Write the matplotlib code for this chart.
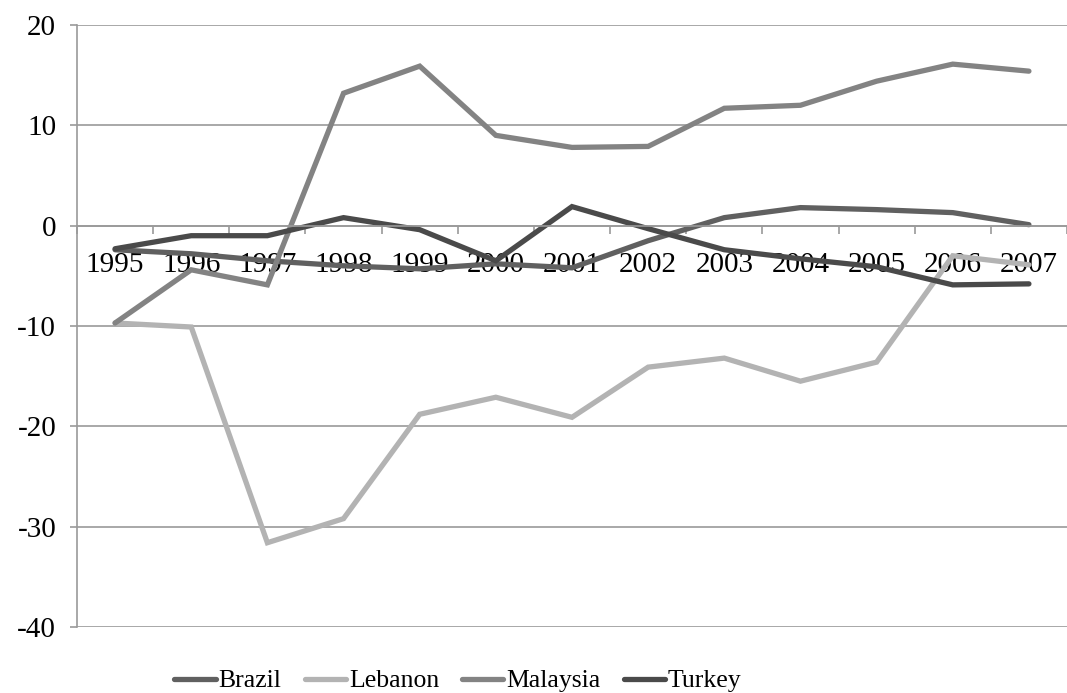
import matplotlib
matplotlib.use('Agg')
from matplotlib import pyplot as plt
import numpy as np

years = ['1995', '1996', '1997', '1998', '1999', '2000', '2001',
         '2002', '2003', '2004', '2005', '2006', '2007']
brazil = [-2.4, -2.8, -3.5, -4.0, -4.3, -3.8, -4.2, -1.5, 0.8, 1.8, 1.6, 1.3, 0.1]
lebanon = [-9.7, -10.1, -31.6, -29.2, -18.8, -17.1, -19.1, -14.1, -13.2, -15.5, -13.6, -3.0, -3.9]
malaysia = [-9.7, -4.4, -5.9, 13.2, 15.9, 9.0, 7.8, 7.9, 11.7, 12.0, 14.4, 16.1, 15.4]
turkey = [-2.3, -1.0, -1.0, 0.8, -0.4, -3.5, 1.9, -0.3, -2.4, -3.3, -4.1, -5.9, -5.8]

series = [('Brazil', brazil, '#606060'),
          ('Lebanon', lebanon, '#b3b3b3'),
          ('Malaysia', malaysia, '#838383'),
          ('Turkey', turkey, '#4a4a4a')]

plt.rcParams['font.family'] = ['Liberation Serif', 'DejaVu Serif']
plt.rcParams['axes.unicode_minus'] = False

fig = plt.figure(figsize=(10.67, 6.93), dpi=100)
ax = fig.add_axes([77 / 1067, 1 - 627 / 693, (1067 - 77) / 1067, (627 - 25) / 693])

x = np.arange(len(years))
for name, vals, col in series:
    ax.plot(x, vals, color=col, lw=3.8, label=name, solid_capstyle='round',
            solid_joinstyle='miter')

ax.set_ylim(-40, 20)
ax.set_yticks(range(-40, 21, 10))
ax.set_xlim(-0.5, (1067 - 116) / 76.67)
ax.grid(axis='y', color='#9a9a9a', lw=1.2)
ax.set_axisbelow(True)

for s in ['top', 'right']:
    ax.spines[s].set_visible(False)
ax.spines['left'].set_color('#9a9a9a')
ax.spines['left'].set_linewidth(1.2)
ax.spines['bottom'].set_position(('data', 0))
ax.spines['bottom'].set_color('#9a9a9a')
ax.spines['bottom'].set_linewidth(1.2)

ax.set_xticks(x)
ax.set_xticklabels(years)
ax.set_xticks(np.arange(-0.5, 13, 1), minor=True)
ax.tick_params(axis='x', which='major', length=0, pad=19, labelsize=21)
ax.tick_params(axis='x', which='minor', length=6, color='#9a9a9a', width=1.2)
ax.tick_params(axis='y', length=5, color='#9a9a9a', width=1.2, labelsize=21, pad=10)

fig.legend(*ax.get_legend_handles_labels(), loc='center',
           bbox_to_anchor=(458 / 1067, 1 - 681 / 693), ncol=4, frameon=False,
           fontsize=18.5, handlelength=1.6, handletextpad=0.12, columnspacing=0.9,
           borderaxespad=0, borderpad=0)

fig.savefig('out.png', dpi=100)
